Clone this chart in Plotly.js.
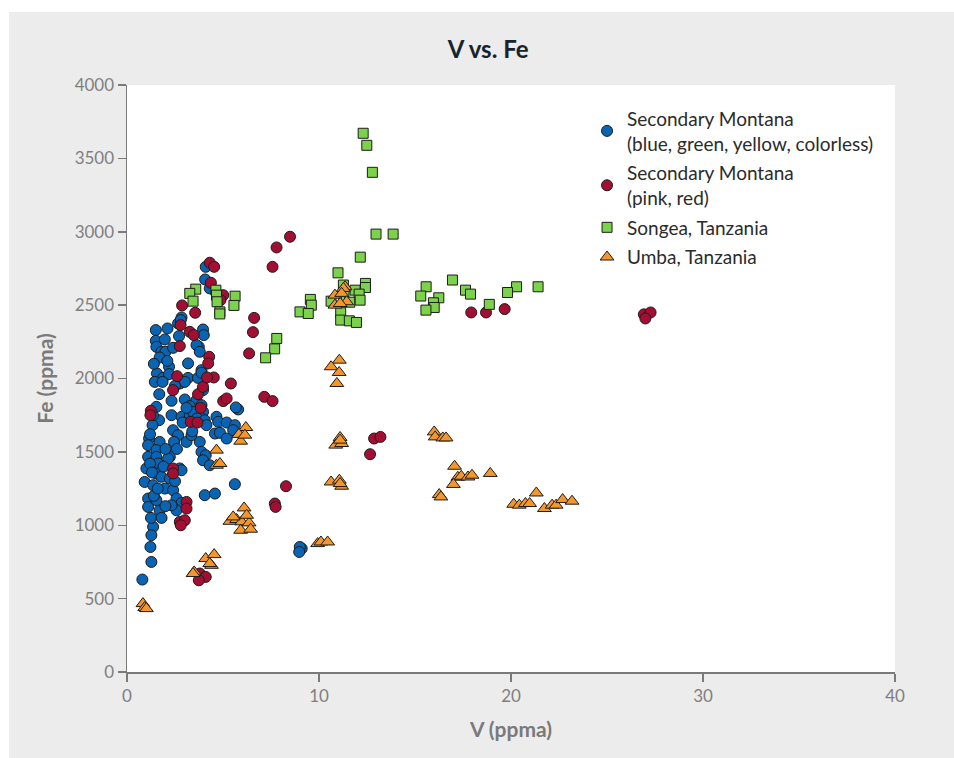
<!DOCTYPE html>
<html>
<head>
<meta charset="utf-8">
<script src="https://cdn.plot.ly/plotly-3.0.1.min.js"></script>
<style>
html,body{margin:0;padding:0;background:#ffffff;overflow:hidden;width:954px;height:758px;}
#chart{position:absolute;left:9px;top:12px;width:945px;height:746px;}
</style>
</head>
<body>
<div id="chart"></div>
<script>
// Secondary Montana (blue, green, yellow, colorless)
const blueV = [1.5,2.11,2.66,2.84,2.8,3.96,4.0,1.5,1.97,1.53,1.79,2.0,1.7,2.71,2.4,3.74,3.62,3.79,2.19,3.18,3.88,1.56,1.88,3.18,3.7,4.1,4.07,4.31,
  2.19,3.88,1.45,1.85,2.75,3.01,1.68,2.32,3.01,3.96,3.62,3.27,1.53,1.67,1.33,2.32,2.84,3.88,3.96,3.79,3.27,3.44,3.65,4.66,4.75,5.19,5.62,5.79,5.67,
  4.58,4.84,5.19,5.53,4.05,4.14,2.4,2.66,2.45,3.1,3.36,3.79,1.15,1.1,1.7,1.53,1.1,1.53,2.23,1.62,2.14,3.88,4.1,3.96,4.31,
  1.01,0.92,1.36,1.5,1.79,2.23,1.97,2.4,2.75,2.84,1.1,1.1,1.7,1.53,2.58,2.84,2.58,2.32,1.36,1.27,1.22,1.27,0.8,4.05,4.58,5.62,9.1,9.0,8.97,
  1.2,1.3,1.4,1.25,1.6,1.9,2.0,2.6,2.5,2.0,1.8,2.9,3.1,1.35,1.2,2.5,2.1,1.4,3.4];
const blueFe = [2330,2341,2375,2416,2398,2334,2296,2257,2266,2216,2182,2182,2143,2289,2209,2216,2228,2182,2080,2103,2057,2034,2004,2004,2004,2761,2675,2614,
  2030,2039,1977,1977,1966,1977,1893,1848,1857,1921,1852,1812,1807,1716,1682,1750,1739,1818,1773,1739,1750,1773,1728,1739,1705,1700,1682,1789,1803,
  1625,1630,1591,1648,1716,1682,1648,1614,1568,1568,1614,1568,1591,1546,1568,1512,1466,1466,1466,1421,1455,1500,1477,1443,1409,
  1387,1295,1273,1353,1330,1318,1250,1239,1387,1375,1182,1125,1102,1171,1182,1152,1102,1136,989,932,852,750,630,1205,1216,1280,841,852,818,
  1420,1360,1200,1050,1250,1400,1520,1520,1300,1130,1050,1700,1800,1750,1620,1950,2120,2100,1640];

// Secondary Montana (pink, red)
const redV = [8.49,7.79,7.58,4.31,4.54,4.37,5.01,4.87,2.87,3.55,6.62,6.56,6.36,2.79,3.27,3.48,2.75,4.28,4.23,2.61,2.4,3.7,3.96,4.52,4.17,3.84,3.32,3.67,
  1.24,1.22,7.15,7.58,5.41,5.01,5.19,2.4,2.4,3.1,3.1,2.75,3.01,2.8,8.28,7.7,7.74,3.79,4.1,3.74,12.87,13.2,12.66,17.93,18.7,19.67,26.92,27.27,27.0];
const redFe = [2966,2893,2761,2789,2761,2652,2568,2534,2498,2448,2413,2316,2171,2364,2318,2296,2221,2148,2103,2016,1921,1893,1943,2007,2007,1800,1705,1700,
  1780,1750,1875,1846,1966,1846,1864,1387,1353,1159,1114,1023,1034,1000,1266,1148,1125,671,648,625,1591,1602,1484,2450,2450,2473,2437,2450,2409];

// Songea, Tanzania
const greenV = [12.3,12.49,12.78,12.97,13.86,12.15,10.99,12.42,12.42,11.27,11.88,12.09,12.14,10.63,9.55,9.6,9.01,9.44,11.13,11.13,11.58,11.95,
  15.58,15.3,16.24,15.96,16.0,15.57,16.95,17.63,17.89,18.87,20.29,19.82,21.41,3.58,3.27,3.44,4.63,4.66,4.69,4.84,4.83,5.63,5.57,
  7.8,7.69,7.22,11.3,11.6];
const greenFe = [3671,3589,3405,2984,2984,2827,2720,2648,2620,2637,2602,2575,2534,2527,2539,2500,2454,2443,2448,2398,2393,2382,
  2625,2562,2550,2516,2484,2466,2671,2602,2575,2505,2625,2586,2625,2609,2580,2527,2602,2568,2523,2454,2440,2561,2498,
  2273,2202,2141,2560,2520];

// Umba, Tanzania
const orangeV = [16.0,16.05,16.45,16.62,17.06,17.23,17.41,17.76,17.97,17.0,18.92,16.26,16.35,21.32,20.14,20.43,20.75,20.97,21.74,22.14,22.35,22.69,23.18,
  11.06,10.63,11.05,10.93,11.1,10.87,11.18,11.1,10.63,11.06,11.18,11.1,9.93,10.1,10.45,6.19,5.83,5.92,6.14,4.66,4.66,4.84,
  6.1,5.36,5.71,5.97,6.36,5.92,6.44,5.53,6.23,4.1,4.54,4.4,4.31,3.5,3.44,0.83,0.92,1.01,
  11.36,11.27,10.83,11.18,11.44,10.83,11.1];
const orangeFe = [1636,1602,1595,1595,1402,1327,1334,1329,1341,1278,1353,1209,1193,1220,1143,1137,1148,1148,1114,1137,1137,1175,1164,
  2125,2080,2041,1966,1598,1546,1557,1580,1295,1307,1266,1284,875,886,886,1666,1619,1573,1614,1512,1409,1421,
  1118,1027,1039,1023,1016,966,973,1057,1068,773,800,727,739,682,671,466,439,432,
  2625,2614,2568,2580,2523,2500,2511];

const seriesNames = [
  'Secondary Montana<br>(blue, green, yellow, colorless)',
  'Secondary Montana<br>(pink, red)',
  'Songea, Tanzania',
  'Umba, Tanzania'
];
const xTicks = [0,10,20,30,40];
const yTicks = [0,500,1000,1500,2000,2500,3000,3500,4000];

const outline = {color:'#1c1c1c', width:1};
const traces = [
  {x: blueV, y: blueFe, name: seriesNames[0], legendgroup:'g1', type:'scatter', mode:'markers',
   marker:{symbol:'circle', size:11, color:'#0a64b4', line:outline}},
  {x: redV, y: redFe, name: seriesNames[1], legendgroup:'g2', type:'scatter', mode:'markers',
   marker:{symbol:'circle', size:11, color:'#a20f33', line:outline}},
  {x: greenV, y: greenFe, name: seriesNames[2], legendgroup:'g3', type:'scatter', mode:'markers',
   marker:{symbol:'square', size:10, color:'#7dd24b', line:outline}},
  {x: orangeV, y: orangeFe, name: seriesNames[3], legendgroup:'g4', type:'scatter', mode:'markers',
   marker:{symbol:'triangle-up', size:12, color:'#f5962a', line:outline}}
];

const axisCommon = {
  showgrid:false, zeroline:false, showline:true, linecolor:'#7a7a7a', linewidth:1.5,
  ticks:'outside', ticklen:8, tickwidth:1.5, tickcolor:'#7a7a7a',
  tickfont:{family:'Lato, sans-serif', size:17, color:'#7f7f7f'}
};

const layout = {
  width:945, height:746,
  paper_bgcolor:'#ececec', plot_bgcolor:'#ffffff',
  margin:{l:118, r:59, t:73, b:86},
  font:{family:'Lato, sans-serif'},
  title:{text:'<b>V vs. Fe</b>', font:{family:'Lato, sans-serif', size:24, color:'#17242c'},
         xref:'container', x:0.507, y:0.95, yref:'container', xanchor:'center', yanchor:'middle'},
  xaxis: Object.assign({}, axisCommon, {range:[0,40], tickvals:xTicks, ticktext:xTicks.map(String),
    title:{text:'<b>V (ppma)</b>', font:{family:'Lato, sans-serif', size:21, color:'#7a7a7a'}, standoff:17}}),
  yaxis: Object.assign({}, axisCommon, {range:[0,4000], tickvals:yTicks, ticktext:yTicks.map(String),
    title:{text:'<b>Fe (ppma)</b>', font:{family:'Lato, sans-serif', size:21, color:'#7a7a7a'}, standoff:15}}),
  showlegend:true,
  legend:{x:0.599, y:0.975, xanchor:'left', yanchor:'top', bgcolor:'rgba(0,0,0,0)',
          font:{family:'Lato, sans-serif', size:19, color:'#2b2b2b'}, tracegroupgap:2, itemsizing:'trace'}
};

Plotly.newPlot('chart', traces, layout, {displayModeBar:false, staticPlot:true});
</script>
</body>
</html>
